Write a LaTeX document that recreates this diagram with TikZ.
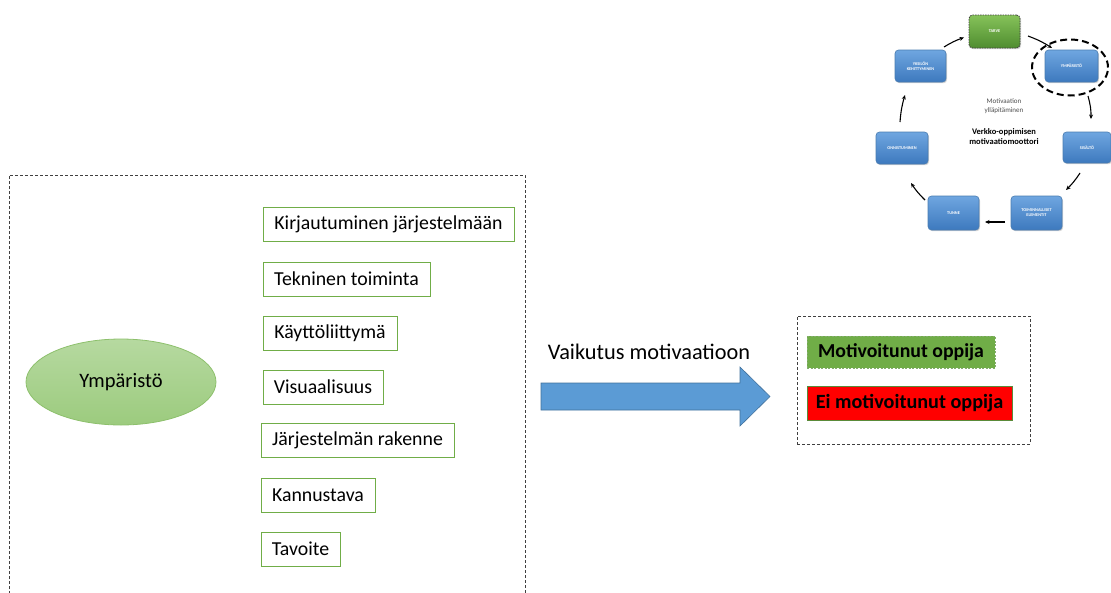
\documentclass[tikz,border=0pt]{standalone}
\usepackage{fontspec}
\setmainfont{Carlito}
\usetikzlibrary{shapes.geometric,arrows.meta,shadows}

\definecolor{leafline}{HTML}{70AD47}
\definecolor{leafdark}{HTML}{4E8A2E}
\definecolor{ellipsetop}{HTML}{B6D9A0}
\definecolor{ellipsebot}{HTML}{9CCB7E}
\definecolor{ellipseedge}{HTML}{8DC06C}
\definecolor{flowblue}{HTML}{5B9BD5}
\definecolor{flowedge}{HTML}{41719C}
\definecolor{cycletop}{HTML}{6FA6E0}
\definecolor{cyclebot}{HTML}{3D79BE}
\definecolor{cycleedge}{HTML}{4A7CB0}
\definecolor{greentop}{HTML}{86C25A}
\definecolor{greenbot}{HTML}{4F8D2F}
\definecolor{framegray}{HTML}{404040}

\tikzset{
  framebox/.style={draw=framegray, line width=0.9pt, dash pattern=on 3pt off 2pt},
  factor/.style={draw=leafline, line width=1pt, minimum height=34, inner sep=0pt,
    font=\fontsize{19.8}{23}\selectfont},
  cyclebox/.style={rounded corners=3.5pt, top color=cycletop, bottom color=cyclebot,
    draw=cycleedge, line width=0.6pt, text=white, inner sep=0pt, align=center,
    font=\fontsize{4.3}{5}\selectfont\bfseries,
    drop shadow={opacity=0.35, shadow xshift=1pt, shadow yshift=-1.2pt}},
  cyclearrow/.style={-{Stealth[length=4.5pt,width=4pt]}, line width=1.1pt, black},
}

\begin{document}
\begin{tikzpicture}[x=1pt, y=-1pt]
\useasboundingbox (0,0) rectangle (1111,592);

% left frame, open at the bottom
\draw[framebox] (9,594) -- (9,175) -- (525,175) -- (525,594);

% environment node
\node[ellipse, minimum width=190, minimum height=86, top color=ellipsetop,
  bottom color=ellipsebot, draw=ellipseedge, line width=0.8pt,
  font=\fontsize{20.5}{24}\selectfont] (env) at (121,382) {Ympäristö};

% environment factors
\node[factor, minimum width=251] (f1) at (388.5,224) {Kirjautuminen järjestelmään};
\node[factor, minimum width=167] (f2) at (346.5,279) {Tekninen toiminta};
\node[factor, minimum width=134] (f3) at (330,333) {Käyttöliittymä};
\node[factor, minimum width=120] (f4) at (323,387) {Visuaalisuus};
\node[factor, minimum width=193] (f5) at (357.5,440) {Järjestelmän rakenne};
\node[factor, minimum width=114] (f6) at (318,495) {Kannustava};
\node[factor, minimum width=79]  (f7) at (300.5,549) {Tavoite};

% effect arrow
\draw[fill=flowblue, draw=flowedge, line width=0.6pt]
  (541,383) -- (740,383) -- (740,367) -- (770,396.5) -- (740,426) -- (740,410) -- (541,410) -- cycle;
\node[font=\fontsize{22.3}{26}\selectfont] (effect) at (649,352) {Vaikutus motivaatioon};

% outcome frame
\node[framebox, minimum width=233, minimum height=128] (outcome) at (913.5,380) {};
\node[fill=leafline, draw=leafdark!70, dash pattern=on 2pt off 1.5pt, line width=0.7pt,
  minimum width=188, minimum height=32, inner sep=0pt,
  font=\fontsize{19.8}{22}\selectfont\bfseries] (yes) at (901,352) {Motivoitunut oppija};
\node[fill=red, draw=leafline!80!black, line width=0.7pt,
  minimum width=205, minimum height=34, inner sep=0pt,
  font=\fontsize{20.2}{22}\selectfont\bfseries] (no) at (909.5,403) {Ei motivoitunut oppija};

% motivation engine cycle
\node[cyclebox, top color=greentop, bottom color=greenbot, draw=black!75,
  dash pattern=on 1.5pt off 1pt, line width=0.8pt,
  minimum width=51, minimum height=33] (tarve) at (994.5,31.5) {TARVE};
\node[cyclebox, minimum width=53, minimum height=32] (ymp) at (1071.5,66) {YMPÄRISTÖ};
\node[cyclebox, minimum width=48, minimum height=31] (sis) at (1087,147.5) {SISÄLTÖ};
\node[cyclebox, minimum width=51, minimum height=34] (toim) at (1036.5,213) {TOIMINNALLISET\\ELEMENTIT};
\node[cyclebox, minimum width=51, minimum height=34] (tunne) at (953.5,213) {TUNNE};
\node[cyclebox, minimum width=52, minimum height=32] (onni) at (902,148) {ONNISTUMINEN};
\node[cyclebox, minimum width=51, minimum height=32] (yks) at (920.5,66) {YKSILÖN\\KEHITTYMINEN};

\node[ellipse, draw=black, line width=2pt, dash pattern=on 7pt off 4pt,
  minimum width=76, minimum height=56] (focus) at (1070,67.5) {};

\node[text=black!70, align=center, font=\fontsize{7}{8.5}\selectfont] (upkeep) at (1004,106)
  {Motivaation\\ylläpitäminen};
\node[align=center, font=\fontsize{8.5}{10}\selectfont\bfseries] (engine) at (1004,137)
  {Verkko-oppimisen\\motivaatiomoottori};

% cycle connectors
\coordinate (a1s) at (944,47);   \coordinate (a1e) at (964,37.5);
\coordinate (a2s) at (1028,36);  \coordinate (a2e) at (1052,48);
\coordinate (a3s) at (1088,96);  \coordinate (a3e) at (1091,119);
\coordinate (a4s) at (1080,173); \coordinate (a4e) at (1066,190);
\coordinate (a5s) at (1005,222); \coordinate (a5e) at (985,222);
\coordinate (a6s) at (925,200);  \coordinate (a6e) at (911,183);
\coordinate (a7s) at (900,122);  \coordinate (a7e) at (905,95);
\draw[cyclearrow] (a1s) to[bend left=6] (a1e);
\draw[cyclearrow] (a2s) to[bend left=6] (a2e);
\draw[cyclearrow] (a3s) to[bend left=8] (a3e);
\draw[cyclearrow] (a4s) to[bend left=6] (a4e);
\draw[cyclearrow] (a5s) to (a5e);
\draw[cyclearrow] (a6s) to[bend left=6] (a6e);
\draw[cyclearrow] (a7s) to[bend left=6] (a7e);
\end{tikzpicture}
\end{document}
